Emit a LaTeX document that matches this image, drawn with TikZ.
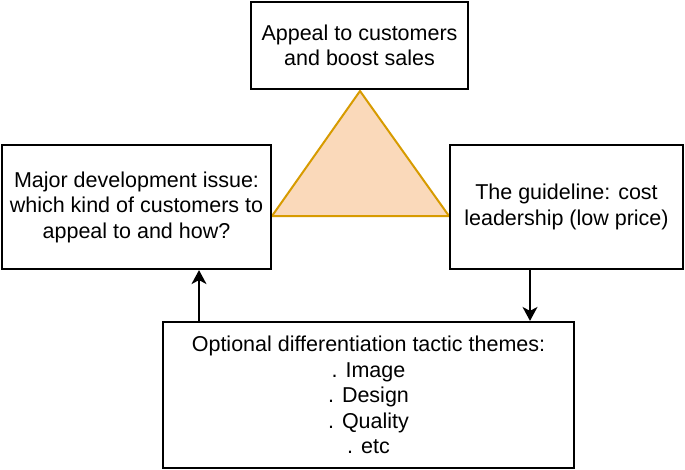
\documentclass[tikz,border=0pt]{standalone}
\usepackage{fontspec}
\setmainfont{Liberation Sans}
\usetikzlibrary{arrows.meta}
\definecolor{triFill}{HTML}{FAD9BA}
\definecolor{triLine}{HTML}{D79B00}
\begin{document}
\begin{tikzpicture}[x=1pt,y=-1pt,
  box/.style={draw=black, line width=2.2pt, fill=white, rectangle, align=center, inner sep=0pt,
    font=\fontsize{21.5}{25.5}\selectfont},
  arr/.style={line width=1.6pt, -{Stealth[length=14pt,width=15pt,inset=4pt]}},
  tri/.style={draw=triLine, fill=triFill, line width=2pt, line join=miter}]
\useasboundingbox (0,0) rectangle (685,469);
\coordinate (apex) at (360,91);
\coordinate (bl) at (272,216);
\coordinate (br) at (449,216);
\draw[tri] (apex) -- (bl) -- (br) -- cycle;
\node[box, minimum width=217pt, minimum height=87pt] (top) at (359.5,45.5)
  {Appeal to customers\\and boost sales};
\node[box, minimum width=269pt, minimum height=124pt] (left) at (136.5,207)
  {Major development issue:\\which kind of customers to\\appeal to and how?};
\node[box, minimum width=233pt, minimum height=124pt] (right) at (566.5,207)
  {The guideline: cost\\leadership (low price)};
\node[box, minimum width=411pt, minimum height=146pt] (bottom) at (368.5,395)
  {Optional differentiation tactic themes:\\. Image\\. Design\\. Quality\\. etc};
\coordinate (ax1) at (199,0);
\coordinate (ax2) at (530,0);
\draw[arr] (bottom.north -| ax1) -- (left.south -| ax1);
\draw[arr] (right.south -| ax2) -- (bottom.north -| ax2);
\end{tikzpicture}
\end{document}
